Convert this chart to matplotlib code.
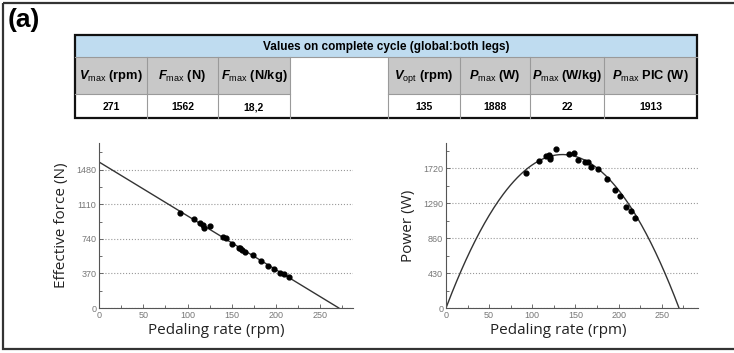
import numpy as np
import matplotlib.pyplot as plt
from matplotlib.patches import Rectangle
from matplotlib.ticker import MultipleLocator
from matplotlib import font_manager

# Table content
table_title = "Values on complete cycle (global:both legs)"
col_labels = [r'$V_{\rm max}$ (rpm)', r'$F_{\rm max}$ (N)', r'$F_{\rm max}$ (N/kg)', '',
              r'$V_{\rm opt}$ (rpm)', r'$P_{\rm max}$ (W)', r'$P_{\rm max}$ (W/kg)',
              r'$P_{\rm max}$ PIC (W)']
col_values = ['271', '1562', '18,2', '', '135', '1888', '22', '1913']

# Fit parameters (from the table)
v_max = 271
f_max = 1562
v_opt = 135
p_max = 1888

# Force-velocity points
force_rpm = [92, 107, 114, 117, 119, 125, 140, 144, 150, 158, 159, 162, 165, 174,
             183, 191, 198, 205, 209, 215]
force_n = [1011, 951, 914, 893, 858, 874, 764, 746, 688, 643, 640, 622, 602, 568,
           508, 451, 412, 376, 363, 327]

# Power-velocity points
power_rpm = [93, 108, 116, 119, 121, 121, 127, 143, 148, 153, 161, 165, 168, 176,
             187, 196, 202, 208, 214, 219]
power_w = [1667, 1810, 1872, 1884, 1831, 1863, 1953, 1896, 1904, 1822, 1802, 1794,
           1740, 1712, 1585, 1454, 1372, 1241, 1188, 1106]

names = {f.name for f in font_manager.fontManager.ttflist}
narrow = 'Liberation Sans Narrow' if 'Liberation Sans Narrow' in names else 'Liberation Sans'

plt.rcParams['mathtext.fontset'] = 'custom'
plt.rcParams['mathtext.it'] = narrow + ':italic:bold'
plt.rcParams['mathtext.rm'] = narrow

fig = plt.figure(figsize=(7.34, 3.53), dpi=100)

# overlay in pixel coordinates for frame and table
ov = fig.add_axes([0, 0, 1, 1])
ov.set_xlim(0, 734)
ov.set_ylim(353, 0)
ov.axis('off')

ov.add_patch(Rectangle((3, 3), 740, 346, fill=False, edgecolor='#333333', lw=1.6))
ov.text(8, 8, '(a)', fontsize=19, fontweight='bold', family='Liberation Sans', va='top', ha='left')

edges = [75, 147, 218, 290, 388, 460, 530, 604, 697]
y0, y1, y2, y3 = 35, 57, 94, 118

ov.add_patch(Rectangle((edges[0], y0), edges[-1] - edges[0], y1 - y0, facecolor='#bfdcf0', edgecolor='none'))
for i in range(len(col_labels)):
    left, right = edges[i], edges[i + 1]
    cx = (left + right) / 2
    if col_labels[i]:
        ov.add_patch(Rectangle((left, y1), right - left, y2 - y1, facecolor='#c8c8c8', edgecolor='none'))
        ov.plot([left, right], [y2, y2], color='#9a9a9a', lw=0.8)
    ov.text(cx, (y1 + y2) / 2 + 1, col_labels[i], fontsize=9.3, fontweight='bold',
            family=narrow, ha='center', va='center')
    ov.text(cx, (y2 + y3) / 2 + 1, col_values[i], fontsize=7.5, fontweight='bold',
            family=narrow, ha='center', va='center')
    if i > 0:
        ov.plot([left, left], [y1, y3], color='#9a9a9a', lw=0.8)
ov.plot([edges[0], edges[-1]], [y1, y1], color='#9a9a9a', lw=0.8)
ov.text((edges[0] + edges[-1]) / 2, (y0 + y1) / 2 + 1, table_title, fontsize=8.5,
        fontweight='bold', family=narrow, ha='center', va='center')
ov.add_patch(Rectangle((edges[0], y0), edges[-1] - edges[0], y3 - y0, fill=False,
                       edgecolor='#111111', lw=1.6))


def style(ax, yticks, ymax, xmax, ylabel, lx, ly):
    ax.set_xlim(0, xmax)
    ax.set_ylim(0, ymax)
    ax.set_yticks(yticks)
    ax.xaxis.set_major_locator(MultipleLocator(50))
    ax.xaxis.set_minor_locator(MultipleLocator(25))
    ax.yaxis.set_minor_locator(MultipleLocator(yticks[1] / 2))
    for s in ['top', 'right']:
        ax.spines[s].set_visible(False)
    for s in ['left', 'bottom']:
        ax.spines[s].set_color('#555555')
        ax.spines[s].set_linewidth(0.8)
    ax.tick_params(which='both', direction='in', colors='#555555', labelsize=6.5,
                   labelcolor='#777777', width=0.6)
    ax.tick_params(which='major', length=3, pad=2)
    ax.tick_params(which='minor', length=2)
    for lab in ax.get_xticklabels() + ax.get_yticklabels():
        lab.set_family('Liberation Sans')
    ax.yaxis.grid(True, linestyle=':', color='#999999', lw=0.8)
    ax.set_axisbelow(True)
    ax.set_xlabel('Pedaling rate (rpm)', fontsize=11, family='Open Sans', color='#222222')
    ax.set_ylabel(ylabel, fontsize=11, family='Open Sans', color='#222222')
    ax.xaxis.set_label_coords(lx, -0.09)
    ax.yaxis.set_label_coords(ly, 0.5)


axF = fig.add_axes([99 / 734, 1 - 308 / 353, 254 / 734, 165 / 353])
axF.plot([0, v_max], [f_max, 0], color='#333333', lw=1)
axF.scatter(force_rpm, force_n, s=12, color='black', zorder=3)
style(axF, [0, 370, 740, 1110, 1480], 1765, 287, 'Effective force (N)', 0.46, -0.117)

axP = fig.add_axes([446 / 734, 1 - 308 / 353, 252 / 734, 165 / 353])
v = np.linspace(0, 2 * v_opt, 200)
axP.plot(v, p_max * (1 - ((v - v_opt) / v_opt) ** 2), color='#333333', lw=1)
axP.scatter(power_rpm, power_w, s=12, color='black', zorder=3)
style(axP, [0, 430, 860, 1290, 1720], 2030, 292, 'Power (W)', 0.445, -0.119)

fig.savefig('out.png', dpi=100)
